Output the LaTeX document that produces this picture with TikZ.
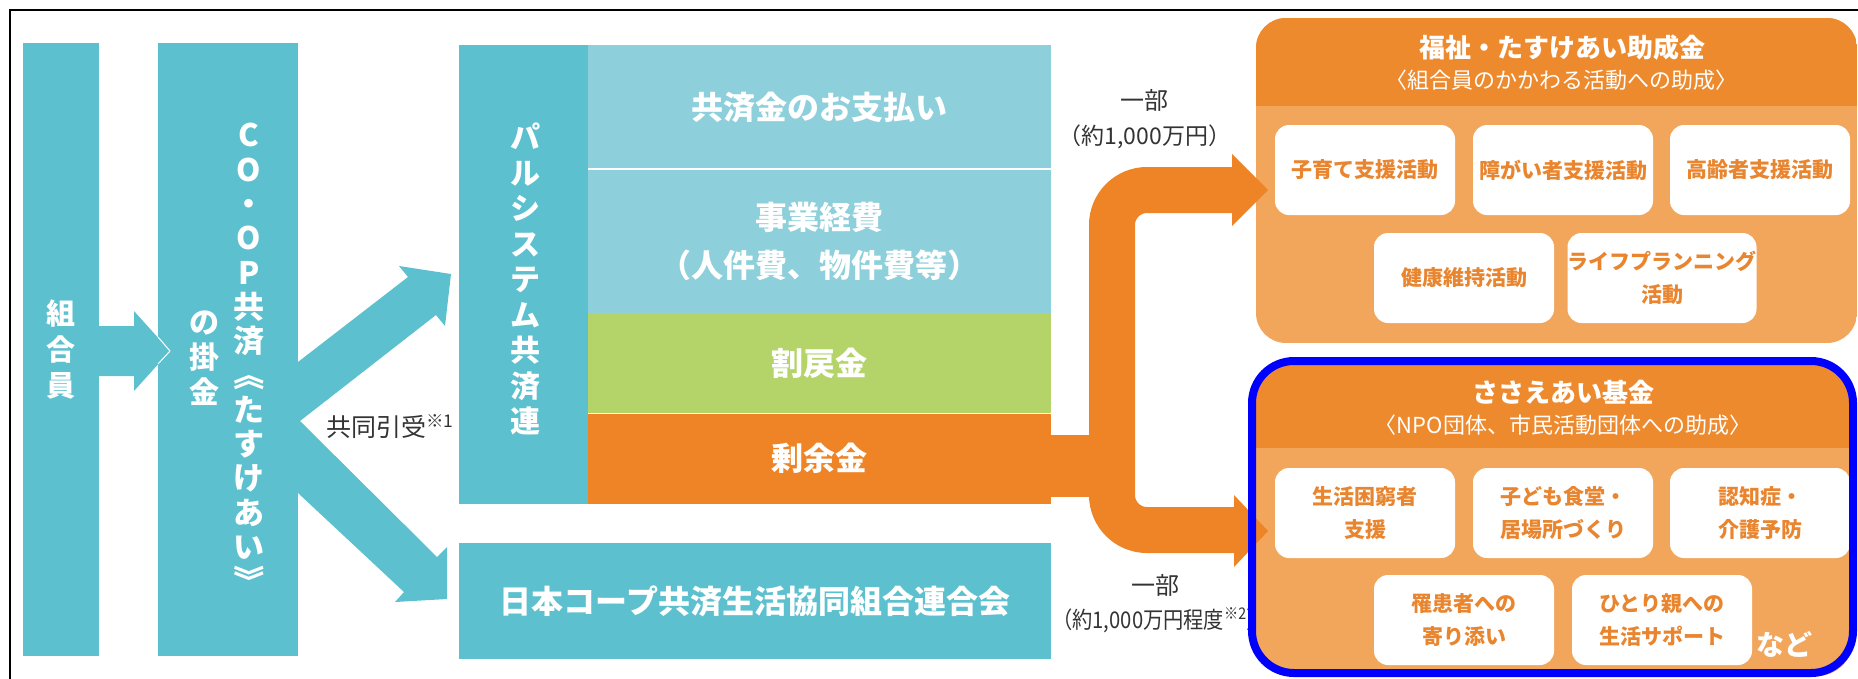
\documentclass[tikz,border=0pt]{standalone}
\usepackage{fontspec}
\setmainfont{Noto Sans CJK JP}
\definecolor{cteal}{HTML}{5CC0CE}
\definecolor{clteal}{HTML}{8DCFDA}
\definecolor{cgreen}{HTML}{B4D46A}
\definecolor{corange}{HTML}{EE8426}
\definecolor{chdr}{HTML}{EE8A2E}
\definecolor{cbody}{HTML}{F1A65C}
\definecolor{ctxt}{HTML}{E9852E}
\definecolor{cblue}{HTML}{0000FF}
\definecolor{cgray}{HTML}{333333}
\newcommand{\fsz}[2]{\fontsize{#1pt}{#2pt}\selectfont}
\newcommand{\vbr}[1]{\rotatebox[origin=c]{-90}{#1}}
\begin{document}
\begin{tikzpicture}[x=1pt,y=-1pt,
  colbox/.style={fill=cteal, inner sep=0pt, outer sep=0pt, anchor=north west},
  vtext/.style={text=white, align=center, inner sep=0pt},
  blk/.style={inner sep=0pt, outer sep=0pt, anchor=north west, text=white, align=center, font=\fsz{32}{48}\bfseries},
  lbl/.style={text=cgray, inner sep=0pt, font=\fsz{23}{28}},
  wbox/.style={fill=white, rounded corners=14pt, minimum width=180pt, minimum height=90pt, inner sep=0pt, text=ctxt, align=center, font=\fsz{21}{33}\bfseries},
  ttl/.style={text=white, inner sep=0pt, font=\fsz{26}{30}\bfseries},
  subttl/.style={text=white, inner sep=0pt, font=\fsz{22}{26}},
  tealarrow/.style={fill=cteal},
  orangeflow/.style={draw=corange, line width=46pt, rounded corners=35pt},
  orangehead/.style={fill=corange}
]
\useasboundingbox (0,0) rectangle (1858,678);
\clip (0,0) rectangle (1858,678);

% frame
\draw[black, line width=2.5pt] (10,700) -- (10,10) -- (1900,10);

% left columns
\node[colbox, minimum width=76pt, minimum height=613pt, text=white, align=center, font=\fsz{29}{36}\bfseries] (kumiai) at (23,43) {組\\合\\員};
\node[colbox, minimum width=140pt, minimum height=613pt] (coop) at (158,43) {};
\node[vtext, font=\fsz{31}{34.3}\bfseries] (coopA) at (249,360) {C\\O\\・\\O\\P\\共\\済\\\vbr{《}\\た\\す\\け\\あ\\い\\\vbr{》}};
\node[vtext, font=\fsz{30}{35}\bfseries] (coopB) at (204,358) {の\\掛\\金};

% pal system block
\node[colbox, minimum width=129pt, minimum height=459pt] (pal) at (459,45) {};
\node[vtext, font=\fsz{30}{35.5}\bfseries] (palT) at (525,279) {パ\\ル\\シ\\ス\\テ\\ム\\共\\済\\連};
\node[blk, fill=clteal, minimum width=463pt, minimum height=124pt] (pay) at (588,45) {共済金のお支払い};
\node[blk, fill=clteal, minimum width=463pt, minimum height=144pt] (cost) at (588,169) {事業経費\\（人件費、物件費等）};
\node[blk, fill=cgreen, minimum width=463pt, minimum height=100pt] (rebate) at (588,313) {割戻金};
\node[blk, fill=corange, minimum width=463pt, minimum height=91pt] (surplus) at (588,413) {剰余金};
\draw[white, line width=2pt] (pay.south west) -- (pay.south east);
\draw[white, line width=1pt] (rebate.south west) -- (rebate.south east);
\node[colbox, minimum width=592pt, minimum height=116pt, text=white, font=\fsz{32}{40}\bfseries] (coopren) at (459,543) {日本コープ共済生活協同組合連合会};

% teal arrows
\fill[tealarrow] (kumiai.east |- 0,326) -- (134,326) -- (134,311) -- (170,351) -- (134,391) -- (134,376) -- (kumiai.east |- 0,376) -- cycle;
\draw[white, line width=1pt] (158,337) -- (170,351) -- (158,364);
\fill[tealarrow] (290,362) -- (298,362) -- (408,277) -- (399,266) -- (451,274) -- (445,326) -- (436,315) -- (300,421) -- (290,421) -- cycle;
\fill[tealarrow] (290,421) -- (300,421) -- (437,557) -- (447,547) -- (447,599) -- (395,602) -- (404,592) -- (298,493) -- (290,493) -- cycle;
\node[lbl, anchor=west, font=\fsz{25}{30}] (kyodo) at (326,427) {共同引受\textsuperscript{※1}};

% labels for orange arrows
\node[lbl, font=\fsz{24}{28}] (partA) at (1144,100) {一部};
\node[lbl] (partAm) at (1145,137) {（約1,000万円）};
\node[lbl, font=\fsz{24}{28}] (partB) at (1155,585) {一部};
\node[lbl, anchor=west] (partBm) at (1052,620) {\scalebox{0.88}[1]{（約1,000万円程度\textsuperscript{※2}）}};

% right top box
\begin{scope}
\clip[rounded corners=30pt] (1256,18) rectangle (1857,343);
\fill[cbody] (1256,18) rectangle (1857,343);
\fill[chdr] (1256,18) rectangle (1857,106);
\end{scope}
\node[ttl] (fukushi) at (1562,48) {福祉・たすけあい助成金};
\node[subttl] (fukushiS) at (1561,80) {〈組合員のかかわる活動への助成〉};
\node[wbox] (a1) at (1365,170) {子育て支援活動};
\node[wbox] (a2) at (1563,170) {障がい者支援活動};
\node[wbox] (a3) at (1760,170) {高齢者支援活動};
\node[wbox] (a4) at (1464,278) {健康維持活動};
\node[wbox] (a5) at (1662,278) {ライフプランニング\\活動};

% right bottom box
\begin{scope}
\clip[rounded corners=36pt] (1256,365) rectangle (1853,676);
\fill[cbody] (1256,365) rectangle (1853,676);
\fill[chdr] (1256,365) rectangle (1853,448);
\end{scope}
\node[ttl] (sasae) at (1563,392) {ささえあい基金};
\node[subttl] (sasaeS) at (1563,425) {〈NPO団体、市民活動団体への助成〉};
\node[wbox] (b1) at (1365,513) {生活困窮者\\支援};
\node[wbox] (b2) at (1563,513) {子ども食堂・\\居場所づくり};
\node[wbox] (b3) at (1760,513) {認知症・\\介護予防};
\node[wbox] (b4) at (1464,620) {罹患者への\\寄り添い};
\node[wbox] (b5) at (1662,620) {ひとり親への\\生活サポート};
\node[text=white, inner sep=0pt, font=\fsz{28}{30}\bfseries] (nado) at (1784,644) {など};

% orange flow
\fill[corange] (surplus.east |- 0,435) rectangle (1112,497);
\draw[orangeflow] (1236,190) -- (1112,190) -- (1112,530) -- (1236,530);
\fill[orangehead] (1232,154) -- (1268,190) -- (1232,226) -- cycle;
\fill[orangehead] (1234,495) -- (1268,531) -- (1234,567) -- cycle;

% blue highlight
\draw[cblue, line width=8pt, rounded corners=42pt] (1252,361) rectangle (1853,673);
\end{tikzpicture}
\end{document}
